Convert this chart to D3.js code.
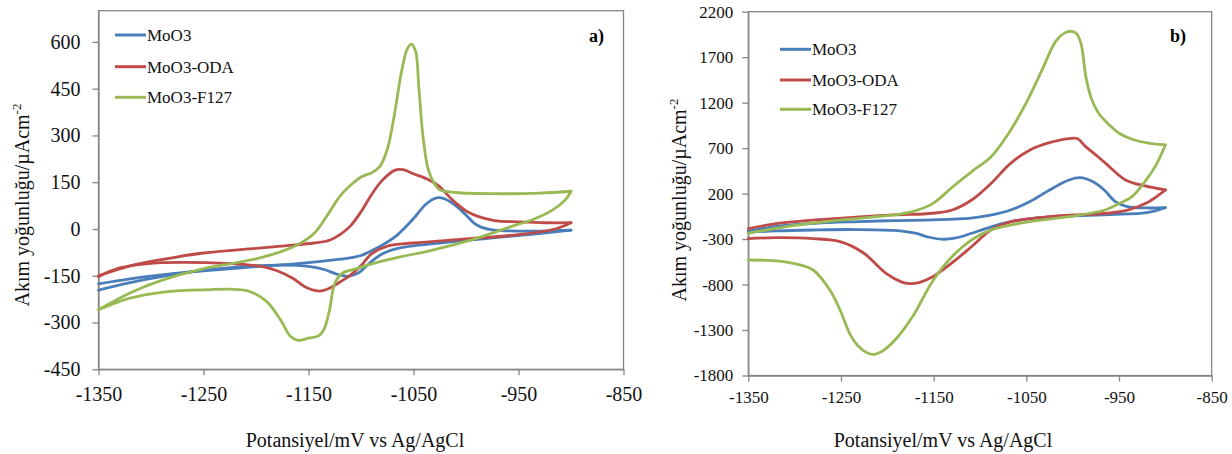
<!DOCTYPE html>
<html>
<head>
<meta charset="utf-8">
<script src="https://cdn.jsdelivr.net/npm/d3@7"></script>
<style>
body { margin: 0; background: #fff; }
svg { display: block; font-family: "Liberation Serif", "Times New Roman", serif; }
.axis path, .axis line { stroke: #868686; stroke-width: 1.3; }
.axis text { fill: #111; }
</style>
</head>
<body>
<div id="chart"></div>
<script>
// tick labels
var xTicks = [-1350, -1250, -1150, -1050, -950, -850];
var aYTicks = [-450, -300, -150, 0, 150, 300, 450, 600];
var bYTicks = [-1800, -1300, -800, -300, 200, 700, 1200, 1700, 2200];

var seriesNames = ["MoO3", "MoO3-ODA", "MoO3-F127"];
var seriesColors = ["#4a7ebb", "#be4b48", "#98b954"];

// panel a) : [potential mV, current density uA/cm2], forward scan then reverse scan
var aMoO3Fwd = [[-1350,-176],[-1320,-160],[-1290,-147],[-1250,-134],[-1200,-121],[-1150,-108],[-1120,-97],
  [-1100,-85],[-1082,-56],[-1067,-24],[-1058,5],[-1048,41],[-1038,80],[-1028,100],[-1020,96],[-1010,75],
  [-1000,45],[-992,18],[-985,5],[-975,-3],[-960,-6],[-930,-7],[-900,-4]];
var aMoO3Rev = [[-900,-4],[-930,-15],[-970,-27],[-1010,-40],[-1045,-52],[-1065,-62],[-1080,-80],[-1092,-110],
  [-1102,-140],[-1112,-152],[-1122,-146],[-1135,-130],[-1150,-120],[-1175,-116],[-1210,-120],[-1250,-133],
  [-1290,-153],[-1320,-172],[-1350,-196]];
var aOdaFwd = [[-1350,-150],[-1320,-118],[-1290,-98],[-1250,-77],[-1200,-62],[-1165,-52],[-1145,-45],[-1130,-36],
  [-1120,-18],[-1110,10],[-1100,55],[-1090,110],[-1080,155],[-1068,188],[-1060,190],[-1050,177],[-1037,160],
  [-1026,138],[-1012,90],[-1000,58],[-990,42],[-973,27],[-950,23],[-925,20],[-900,20]];
var aOdaRev = [[-900,20],[-915,0],[-950,-18],[-1000,-32],[-1050,-45],[-1075,-55],[-1090,-80],[-1100,-118],
  [-1110,-148],[-1120,-170],[-1130,-190],[-1140,-199],[-1152,-188],[-1165,-158],[-1180,-134],[-1195,-120],
  [-1230,-110],[-1270,-107],[-1300,-110],[-1330,-125],[-1350,-153]];
var aF127Fwd = [[-1350,-259],[-1320,-205],[-1290,-165],[-1250,-127],[-1200,-96],[-1165,-58],[-1145,-15],
  [-1130,55],[-1120,105],[-1110,140],[-1099,168],[-1090,180],[-1082,201],[-1075,255],[-1069,351],[-1061,512],
  [-1056,577],[-1052,593],[-1048,570],[-1045,458],[-1041,298],[-1036,191],[-1030,145],[-1025,126],[-1010,117],
  [-968,113],[-930,115],[-900,121]];
var aF127Rev = [[-900,121],[-905,95],[-917,62],[-935,32],[-955,10],[-990,-30],[-1030,-66],[-1067,-93],
  [-1090,-112],[-1105,-128],[-1118,-142],[-1125,-175],[-1130,-260],[-1135,-320],[-1140,-342],[-1150,-350],
  [-1160,-357],[-1167,-345],[-1176,-295],[-1190,-232],[-1209,-198],[-1250,-195],[-1290,-203],[-1320,-222],
  [-1350,-259]];

// panel b)
var bMoO3Fwd = [[-1350,-215],[-1320,-160],[-1278,-126],[-1230,-108],[-1193,-97],[-1151,-89],[-1110,-70],
  [-1090,-40],[-1067,20],[-1046,112],[-1025,240],[-1004,350],[-992,376],[-979,335],[-966,240],[-954,112],
  [-941,57],[-920,42],[-900,45]];
var bMoO3Rev = [[-900,45],[-920,-10],[-960,-30],[-1000,-45],[-1025,-55],[-1050,-80],[-1067,-108],[-1088,-165],
  [-1109,-236],[-1126,-288],[-1140,-302],[-1155,-280],[-1170,-235],[-1193,-205],[-1236,-195],[-1280,-200],
  [-1320,-210],[-1350,-225]];
var bOdaFwd = [[-1350,-185],[-1320,-130],[-1278,-89],[-1230,-55],[-1193,-34],[-1151,-16],[-1130,20],
  [-1109,130],[-1088,313],[-1067,533],[-1046,680],[-1025,760],[-1004,805],[-995,805],[-986,716],[-972,600],
  [-962,510],[-943,350],[-922,284],[-900,240]];
var bOdaRev = [[-900,240],[-907,185],[-920,100],[-940,20],[-962,-16],[-1000,-35],[-1025,-53],[-1050,-80],
  [-1067,-110],[-1088,-199],[-1109,-382],[-1130,-560],[-1151,-715],[-1165,-775],[-1176,-790],[-1185,-770],
  [-1201,-680],[-1226,-450],[-1250,-330],[-1280,-295],[-1320,-285],[-1350,-295]];
var bF127Fwd = [[-1350,-235],[-1300,-150],[-1250,-90],[-1193,-34],[-1172,5],[-1151,90],[-1130,270],
  [-1109,442],[-1088,606],[-1069,864],[-1050,1200],[-1033,1560],[-1018,1880],[-1008,1970],[-1002,1985],
  [-996,1960],[-991,1850],[-986,1500],[-980,1250],[-972,1083],[-960,950],[-950,864],[-935,795],[-918,754],
  [-900,735]];
var bF127Rev = [[-900,735],[-911,496],[-922,332],[-936,167],[-950,90],[-965,20],[-1004,-53],[-1046,-108],
  [-1088,-199],[-1109,-309],[-1130,-492],[-1151,-760],[-1172,-1140],[-1190,-1390],[-1205,-1530],[-1214,-1568],
  [-1222,-1550],[-1232,-1470],[-1240,-1350],[-1251,-1080],[-1262,-860],[-1280,-640],[-1300,-570],
  [-1320,-540],[-1350,-530]];

var w = 1232, h = 454;

var svg = d3.select("#chart").append("svg")
  .attr("width", w)
  .attr("height", h);

function drawPanel(p) {
  var x = d3.scaleLinear().domain([-1350, -850]).range([p.left, p.right]);
  var y = d3.scaleLinear().domain(p.yDomain).range([p.bottom, p.top]);
  var g = svg.append("g");

  // plot area border
  g.append("rect")
    .attr("x", p.left).attr("y", p.top)
    .attr("width", p.right - p.left).attr("height", p.bottom - p.top)
    .attr("fill", "none").attr("stroke", "#868686").attr("stroke-width", 1.3);

  var gx = g.append("g").attr("class", "axis")
    .attr("transform", "translate(0," + p.bottom + ")")
    .call(d3.axisBottom(x).tickValues(xTicks).tickSize(6).tickSizeOuter(0)
      .tickPadding(p.xPad).tickFormat(function(d) { return String(d); }));
  gx.attr("font-family", null).attr("font-size", p.tickFont);

  var gy = g.append("g").attr("class", "axis")
    .attr("transform", "translate(" + p.left + ",0)")
    .call(d3.axisLeft(y).tickValues(p.yTicks).tickSize(6).tickSizeOuter(0)
      .tickPadding(p.yPad).tickFormat(function(d) { return String(d); }));
  gy.attr("font-family", null).attr("font-size", p.tickFont);

  // curves
  var line = d3.line()
    .x(function(d) { return x(d[0]); })
    .y(function(d) { return y(d[1]); })
    .curve(d3.curveCatmullRom.alpha(0.5));

  p.series.forEach(function(s, i) {
    [s[0], s[1]].forEach(function(branch) {
      g.append("path")
        .datum(branch)
        .attr("d", line)
        .attr("fill", "none")
        .attr("stroke", seriesColors[i])
        .attr("stroke-width", 2.8)
        .attr("stroke-linejoin", "round")
        .attr("stroke-linecap", "round");
    });
  });

  // legend
  seriesNames.forEach(function(name, i) {
    var ly = p.legendY[i];
    g.append("line")
      .attr("x1", p.legendX).attr("x2", p.legendX + 31)
      .attr("y1", ly).attr("y2", ly)
      .attr("stroke", seriesColors[i]).attr("stroke-width", 3);
    g.append("text")
      .attr("x", p.legendX + 32).attr("y", ly)
      .attr("dy", "0.35em")
      .attr("font-size", 17)
      .attr("fill", "#111")
      .text(name);
  });

  // panel letter
  g.append("text")
    .attr("x", p.letterX).attr("y", 36)
    .attr("dy", "0.35em")
    .attr("text-anchor", "end")
    .attr("font-size", 18)
    .attr("font-weight", "bold")
    .text(p.letter);

  // axis titles
  g.append("text")
    .attr("x", p.xTitleX).attr("y", 440)
    .attr("dy", "0.35em")
    .attr("text-anchor", "middle")
    .attr("font-size", 20)
    .attr("fill", "#111")
    .text("Potansiyel/mV vs Ag/AgCl");

  var yt = g.append("text")
    .attr("transform", "translate(" + p.yTitleX + "," + p.yTitleY + ") rotate(-90)")
    .attr("dy", "0.35em")
    .attr("text-anchor", "middle")
    .attr("font-size", 20)
    .attr("fill", "#111");
  yt.append("tspan").text("Akım yoğunluğu/µAcm");
  yt.append("tspan").attr("dy", -8).attr("font-size", 13).text("-2");
}

drawPanel({
  left: 98.5, right: 623.5, top: 10.7, bottom: 369.3,
  yDomain: [-450, 700], yTicks: aYTicks,
  tickFont: 20, xPad: 12, yPad: 12,
  series: [[aMoO3Fwd, aMoO3Rev], [aOdaFwd, aOdaRev], [aF127Fwd, aF127Rev]],
  legendX: 115, legendY: [35, 66.7, 97.3],
  letter: "a)", letterX: 604,
  xTitleX: 355, yTitleX: 22, yTitleY: 205
});

drawPanel({
  left: 748.3, right: 1211.7, top: 11.7, bottom: 375.5,
  yDomain: [-1800, 2200], yTicks: bYTicks,
  tickFont: 17, xPad: 9, yPad: 9,
  series: [[bMoO3Fwd, bMoO3Rev], [bOdaFwd, bOdaRev], [bF127Fwd, bF127Rev]],
  legendX: 780, legendY: [49.3, 80, 109.3],
  letter: "b)", letterX: 1186,
  xTitleX: 943, yTitleX: 679, yTitleY: 200
});
</script>
</body>
</html>
